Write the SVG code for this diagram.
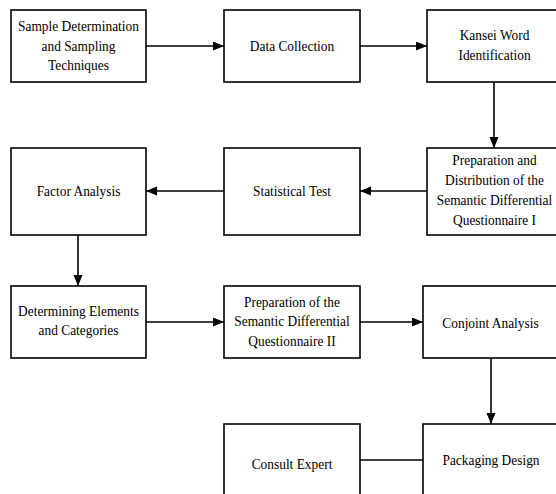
<svg xmlns="http://www.w3.org/2000/svg" width="556" height="494" viewBox="0 0 556 494">
<style>
.box{fill:#fff;stroke:#000;stroke-width:1.6}
text{font-family:'Liberation Serif','DejaVu Serif',serif;font-size:15px;fill:#000;text-anchor:middle}
.c{fill:none;stroke:#000;stroke-width:1.6}
</style>
<defs>
<marker id="ah" markerUnits="userSpaceOnUse" markerWidth="12" markerHeight="10" refX="11" refY="4.5" orient="auto">
<path d="M0,0 L11,4.5 L0,9 Z" fill="#000"/>
</marker>
</defs>
<rect width="556" height="494" fill="#fff"/>
<g id="connectors">
<line class="c" x1="146" y1="46" x2="224" y2="46" marker-end="url(#ah)"/>
<line class="c" x1="360" y1="46" x2="427" y2="46" marker-end="url(#ah)"/>
<line class="c" x1="494" y1="82" x2="494" y2="148" marker-end="url(#ah)"/>
<line class="c" x1="427" y1="191" x2="360" y2="191" marker-end="url(#ah)"/>
<line class="c" x1="224" y1="191" x2="146" y2="191" marker-end="url(#ah)"/>
<line class="c" x1="78" y1="235" x2="78" y2="286" marker-end="url(#ah)"/>
<line class="c" x1="146" y1="322" x2="224" y2="322" marker-end="url(#ah)"/>
<line class="c" x1="360" y1="322" x2="423" y2="322" marker-end="url(#ah)"/>
<line class="c" x1="491" y1="358" x2="491" y2="424" marker-end="url(#ah)"/>
<line class="c" x1="360" y1="460" x2="423" y2="460"/>
</g>
<g id="n1"><rect class="box" x="11" y="10" width="135" height="72"/>
<text font-family="Liberation Serif, DejaVu Serif, serif" transform="translate(78.5,0) scale(0.893,1)"><tspan x="0" y="31.5">Sample Determination</tspan><tspan x="0" y="51">and Sampling</tspan><tspan x="0" y="70">Techniques</tspan></text></g>
<g id="n2"><rect class="box" x="224" y="10" width="136" height="72"/>
<text font-family="Liberation Serif, DejaVu Serif, serif" transform="translate(292,0) scale(0.893,1)" y="51">Data Collection</text></g>
<g id="n3"><rect class="box" x="427" y="10" width="135" height="72"/>
<text font-family="Liberation Serif, DejaVu Serif, serif" transform="translate(494.5,0) scale(0.893,1)"><tspan x="0" y="40.5">Kansei Word</tspan><tspan x="0" y="60">Identification</tspan></text></g>
<g id="n4"><rect class="box" x="427" y="148" width="135" height="87"/>
<text font-family="Liberation Serif, DejaVu Serif, serif" transform="translate(494.5,0) scale(0.893,1)"><tspan x="0" y="165.5">Preparation and</tspan><tspan x="0" y="185.5">Distribution of the</tspan><tspan x="0" y="205.5">Semantic Differential</tspan><tspan x="0" y="225.5">Questionnaire I</tspan></text></g>
<g id="n5"><rect class="box" x="224" y="148" width="136" height="87"/>
<text font-family="Liberation Serif, DejaVu Serif, serif" transform="translate(292,0) scale(0.893,1)" y="196">Statistical Test</text></g>
<g id="n6"><rect class="box" x="11" y="148" width="135" height="87"/>
<text font-family="Liberation Serif, DejaVu Serif, serif" transform="translate(78.5,0) scale(0.893,1)" y="196">Factor Analysis</text></g>
<g id="n7"><rect class="box" x="11" y="286" width="135" height="72"/>
<text font-family="Liberation Serif, DejaVu Serif, serif" transform="translate(78.5,0) scale(0.893,1)"><tspan x="0" y="316.5">Determining Elements</tspan><tspan x="0" y="335.5">and Categories</tspan></text></g>
<g id="n8"><rect class="box" x="224" y="286" width="136" height="72"/>
<text font-family="Liberation Serif, DejaVu Serif, serif" transform="translate(292,0) scale(0.893,1)"><tspan x="0" y="307">Preparation of the</tspan><tspan x="0" y="326.5">Semantic Differential</tspan><tspan x="0" y="346">Questionnaire II</tspan></text></g>
<g id="n9"><rect class="box" x="423" y="286" width="139" height="72"/>
<text font-family="Liberation Serif, DejaVu Serif, serif" transform="translate(490.5,0) scale(0.893,1)" y="328">Conjoint Analysis</text></g>
<g id="n10"><rect class="box" x="423" y="424" width="139" height="80"/>
<text font-family="Liberation Serif, DejaVu Serif, serif" transform="translate(491,0) scale(0.893,1)" y="465">Packaging Design</text></g>
<g id="n11"><rect class="box" x="224" y="424" width="136" height="80"/>
<text font-family="Liberation Serif, DejaVu Serif, serif" transform="translate(292,0) scale(0.893,1)" y="469">Consult Expert</text></g>
</svg>
